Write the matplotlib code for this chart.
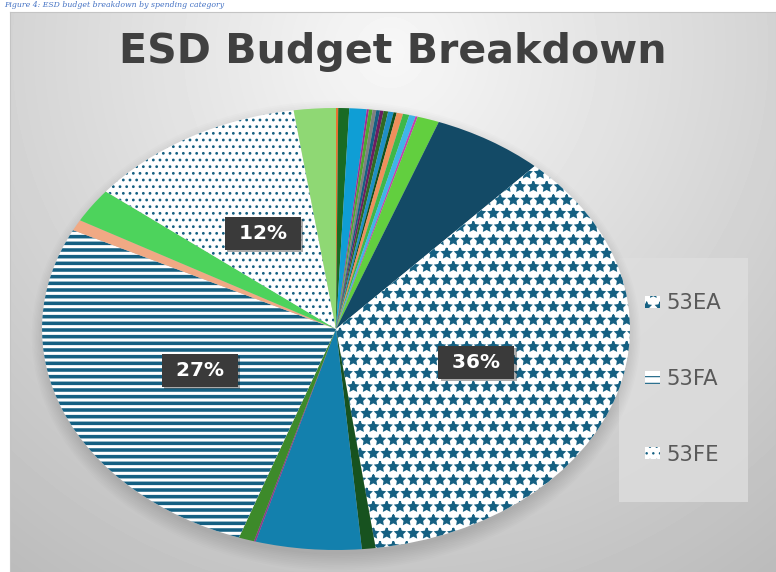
import numpy as np
import matplotlib
matplotlib.use('Agg')
import matplotlib.pyplot as plt
from matplotlib.patches import Rectangle, Ellipse
from matplotlib import patheffects

# slices in clockwise order starting at 12 o'clock (percent of budget)
cost_codes = ['misc01', 'misc02', 'misc03', 'misc04', 'misc05', 'misc06', 'misc07',
              'misc08', 'misc09', 'misc10', 'misc11', 'misc12', 'misc13', 'misc14',
              'misc15', 'misc16', 'misc17', '53EA', 'misc18', 'misc19', 'misc20',
              'misc21', '53FA', 'misc22', 'misc23', '53FE', 'misc24']
shares = [0.12, 0.6, 0.95, 0.12, 0.2, 0.2, 0.2,
          0.2, 0.25, 0.3, 0.17, 0.35, 0.35, 0.35,
          0.12, 1.2, 6.12, 36.0, 0.75, 5.8, 0.1,
          0.85, 27.0, 0.8, 2.5, 12.0, 2.3]
slice_colors = ['#E97132', '#196B24', '#0F9ED5', '#A02B93', '#4EA72E', '#7F7F7F', '#156082',
                '#6B1D62', '#2F6B24', '#1F8FC5', '#12501B', '#EF8F5B', '#3EB84A', '#3FB5E8',
                '#C040B0', '#62CF3F', '#134A66', '#FFFFFF', '#17521F', '#1380AD', '#8B3A8B',
                '#3D8A2A', '#FFFFFF', '#F0A984', '#4DD35C', '#FFFFFF', '#8FD874']
legend_codes = ['53EA', '53FA', '53FE']
patterns = {'53EA': ('*', 1.7), '53FA': ('--', 3.2), '53FE': ('..', 1.3)}
accent = '#156082'

W, H = 776, 572
fig = plt.figure(figsize=(W / 80, H / 80), dpi=80)
fig.patch.set_facecolor('white')

# chart area background (radial grey gradient)
bg = fig.add_axes([10 / W, 0, (W - 10) / W, (H - 12) / H])
gx, gy = np.meshgrid(np.arange(W - 10), np.arange(H - 12))
r = np.hypot(gx - 380, gy - 40)
grad = np.clip(0.97 - 0.000365 * r, 0, 1)
bg.imshow(grad, cmap='gray', vmin=0, vmax=1, aspect='auto', interpolation='bilinear')
bg.set_xticks([])
bg.set_yticks([])
for s in bg.spines.values():
    s.set_color('#c4c4c4')
    s.set_linewidth(1)

# legend box
fig.add_artist(Rectangle((619 / W, (H - 502) / H), 129 / W, 244 / H,
                         transform=fig.transFigure, facecolor='#dedede',
                         edgecolor='none', alpha=0.8, zorder=1))

ax = fig.add_axes([42 / W, 22 / H, 588 / W, 442 / H])
ax.patch.set_visible(False)
ax.set_zorder(2)

# soft shadow under the pie
for k in range(10):
    ax.add_patch(Ellipse((0.0, -0.03), 1.98 + 0.01 * k, 1.98 + 0.016 * k,
                         facecolor='black', edgecolor='none', alpha=0.012,
                         clip_on=False, zorder=0))

wedges, _, pct_texts = ax.pie(
    shares, colors=slice_colors, startangle=90, counterclock=False,
    autopct=lambda p: f' {p:.0f}% ' if p > 10 else '', pctdistance=0.5,
    wedgeprops=dict(linewidth=0), textprops=dict(color='white'))
ax.set_aspect('auto')
ax.set_xlim(-1, 1)
ax.set_ylim(-1, 1)

for w, code in zip(wedges, cost_codes):
    w.set_zorder(1)
    if code in patterns:
        hatch, hlw = patterns[code]
        w.set_facecolor('white')
        w.set_edgecolor(accent)
        w.set_linewidth(0)
        w.set_hatch(hatch)
        if hasattr(w, 'set_hatch_linewidth'):
            w.set_hatch_linewidth(hlw)
        else:
            w._hatch_linewidth = hlw

for t in pct_texts:
    if t.get_text():
        t.set_fontsize(18)
        t.set_fontweight('bold')
        t.set_bbox(dict(boxstyle='square,pad=0.35', facecolor='#3a3a3a', edgecolor='none'))
        t.get_bbox_patch().set_path_effects(
            [patheffects.withSimplePatchShadow(offset=(2, -2), alpha=0.35)])
        t.set_zorder(5)

handles = [wedges[cost_codes.index(c)] for c in legend_codes]
leg = ax.legend(handles, legend_codes, loc='center',
                bbox_to_anchor=(683 / W, 1 - 379 / H), bbox_transform=fig.transFigure,
                frameon=False, fontsize=19, labelcolor='#595959',
                handlelength=0.75, handleheight=0.5, handletextpad=0.3,
                labelspacing=2.65)

fig.text(393 / W, 1 - 52 / H, 'ESD Budget Breakdown', ha='center', va='center',
         fontsize=37, fontweight='bold', color='#404040')

fig.text(4 / W, 1 - 1 / H, 'Figure 4: ESD budget breakdown by spending category',
         color='#4472C4', style='italic', family='DejaVu Serif', fontsize=7,
         va='top')

fig.savefig('out.png', dpi=80)
